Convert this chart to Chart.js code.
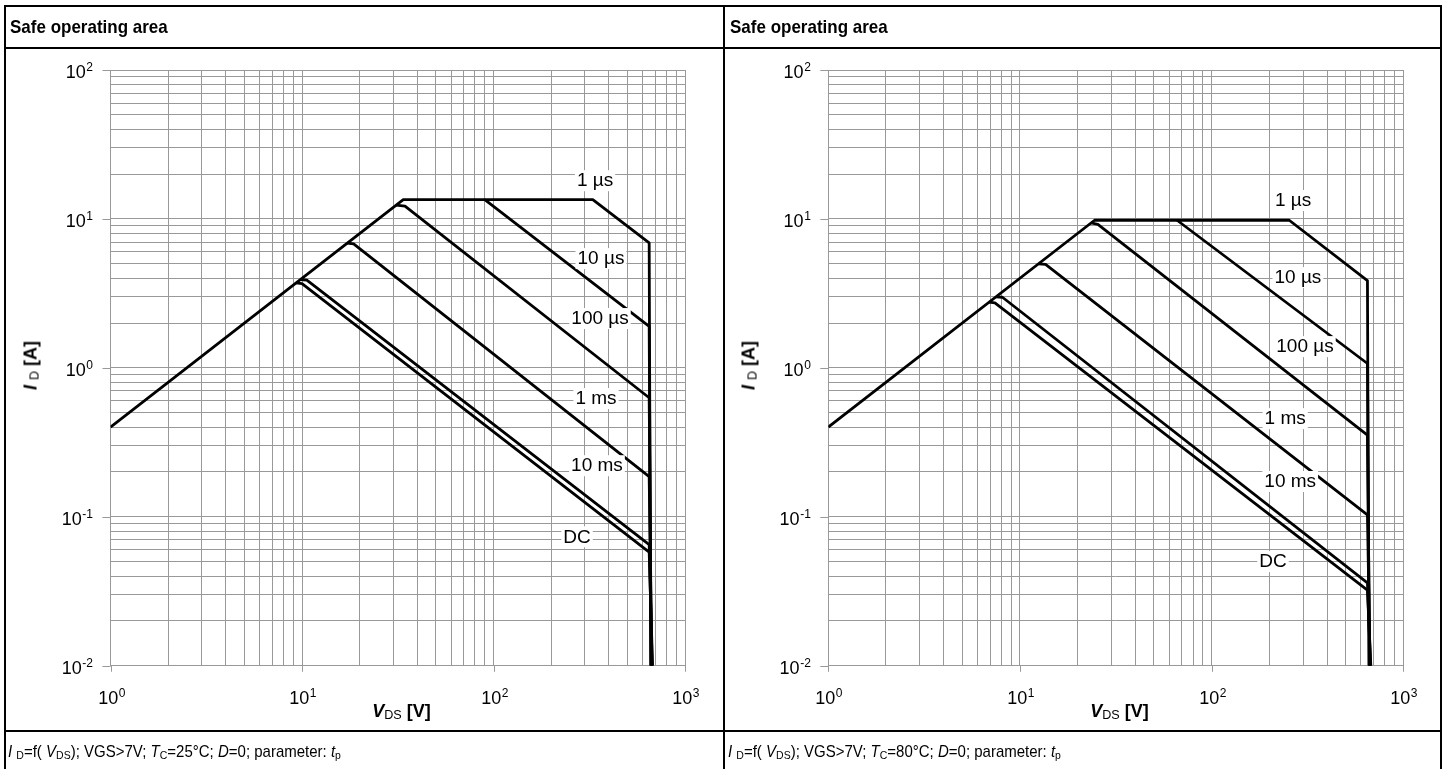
<!DOCTYPE html>
<html>
<head>
<meta charset="utf-8">
<script src="https://cdn.jsdelivr.net/npm/chart.js@4.4.1/dist/chart.umd.min.js"></script>
<style>
body { margin: 0; background: #fff; font-family: "Liberation Sans", Arial, sans-serif; }
#page { position: relative; width: 1445px; height: 769px; overflow: hidden; }
canvas { position: absolute; left: 0; top: 0; }
.ln { position: absolute; background: #000; }
.title { position: absolute; top: 16px; font-weight: bold; font-size: 17px; transform: scale(1, 1.12); transform-origin: left top; }
.cap { position: absolute; top: 741px; font-size: 15px; white-space: nowrap; transform: scale(1, 1.12); transform-origin: left top; }
.cap sub, .ax sub { font-size: 70%; vertical-align: -2px; font-weight: normal; }
.ax { position: absolute; font-weight: bold; font-size: 18px; white-space: nowrap; text-align: center; }
.yax { transform: rotate(-90deg); transform-origin: center center; width: 80px; }
</style>
</head>
<body>
<div id="page">
  <canvas id="c25" width="1445" height="769"></canvas>
  <canvas id="c80" width="1445" height="769"></canvas>

  <div class="ln" style="left:4px;top:5px;width:1438px;height:2px"></div>
  <div class="ln" style="left:4px;top:47px;width:1438px;height:2px"></div>
  <div class="ln" style="left:4px;top:730px;width:1438px;height:2px"></div>
  <div class="ln" style="left:4px;top:5px;width:2px;height:770px"></div>
  <div class="ln" style="left:723px;top:5px;width:2px;height:770px"></div>
  <div class="ln" style="left:1440px;top:5px;width:2px;height:770px"></div>

  <div class="title" style="left:10px">Safe operating area</div>
  <div class="title" style="left:730px">Safe operating area</div>

  <div class="ax" style="left:114px;width:575px;top:701px"><i>V</i><sub>DS</sub> [V]</div>
  <div class="ax" style="left:832px;width:575px;top:701px"><i>V</i><sub>DS</sub> [V]</div>
  <div class="ax yax" style="left:-9px;top:355px"><i>I</i> <sub>D</sub> [A]</div>
  <div class="ax yax" style="left:709px;top:355px"><i>I</i> <sub>D</sub> [A]</div>

  <div class="cap" style="left:8px"><i>I</i> <sub>D</sub>=f( <i>V</i><sub>DS</sub>); VGS&gt;7V; <i>T</i><sub>C</sub>=25°C; <i>D</i>=0; parameter: <i>t</i><sub>p</sub></div>
  <div class="cap" style="left:728px"><i>I</i> <sub>D</sub>=f( <i>V</i><sub>DS</sub>); VGS&gt;7V; <i>T</i><sub>C</sub>=80°C; <i>D</i>=0; parameter: <i>t</i><sub>p</sub></div>
</div>

<script>
// axis decades (exponents of ten)
const xExps = [0, 1, 2, 3]
const yExps = [-2, -1, 0, 1, 2]
const pulseNames = ['1 µs', '10 µs', '100 µs', '1 ms', '10 ms', 'DC']

// T_C = 25°C : V_DS [V] and I_D [A] per pulse length
const v25_1us = [1, 33.8, 330, 650, 662]
const i25_1us = [0.4, 13.5, 13.5, 6.9, 0.01]
const v25_10us = [90, 650, 665]
const i25_10us = [13.5, 1.9, 0.01]
const v25_100us = [31, 34.5, 650, 668]
const i25_100us = [12.4, 12.2, 0.63, 0.01]
const v25_1ms = [17.2, 18.6, 650, 671]
const i25_1ms = [6.88, 6.8, 0.186, 0.01]
const v25_10ms = [9.8, 10.6, 650, 674]
const i25_10ms = [3.92, 3.88, 0.065, 0.01]
const v25_dc = [9.3, 10.0, 650, 677]
const i25_dc = [3.72, 3.68, 0.058, 0.01]
// where the pulse names sit
const lblV25 = [339, 364, 360, 343, 347, 273]
const lblI25 = [18.2, 5.46, 2.16, 0.627, 0.222, 0.074]

// T_C = 80°C
const v80_1us = [1, 24.5, 254, 650, 662]
const i80_1us = [0.4, 9.8, 9.8, 3.85, 0.01]
const v80_10us = [66, 650, 665]
const i80_10us = [9.8, 1.07, 0.01]
const v80_100us = [23.5, 25.5, 650, 668]
const i80_100us = [9.4, 9.2, 0.354, 0.01]
const v80_1ms = [12.5, 13.6, 650, 671]
const i80_1ms = [5.0, 4.95, 0.103, 0.01]
const v80_10ms = [7.5, 8.1, 650, 674]
const i80_10ms = [3.0, 2.98, 0.036, 0.01]
const v80_dc = [6.9, 7.4, 650, 677]
const i80_dc = [2.76, 2.73, 0.0322, 0.01]
const lblV80 = [266, 282, 307, 242, 257, 209]
const lblI80 = [13.4, 4.07, 1.40, 0.46, 0.174, 0.0504]

const FONT = '"Liberation Sans", Arial, sans-serif'

function pts(vs, is) {
    return vs.map((v, k) => ({ x: v, y: is[k] }))
}

function logTicks(lo, hi) {
    const t = []
    for (let e = lo; e <= hi; e++) {
        for (let m = 1; m <= 9; m++) {
            if (e == hi && m > 1) break
            t.push({ value: m * Math.pow(10, e), major: m == 1 })
        }
    }
    return t
}

function drawPow(ctx, exp, x, y, align) {
    ctx.font = '18px ' + FONT
    const wb = ctx.measureText('10').width
    ctx.font = '12px ' + FONT
    const we = ctx.measureText(String(exp)).width
    let x0 = x
    if (align == 'right') x0 = x - wb - we
    if (align == 'center') x0 = x - (wb + we) / 2
    ctx.textAlign = 'left'
    ctx.textBaseline = 'alphabetic'
    ctx.font = '18px ' + FONT
    ctx.fillText('10', x0, y)
    ctx.font = '12px ' + FONT
    ctx.fillText(String(exp), x0 + wb + 0.5, y - 7)
}

const decor = {
    id: 'decor',
    afterDatasetsDraw(chart, args, opts) {
        const ctx = chart.ctx, xs = chart.scales.x, ys = chart.scales.y, a = chart.chartArea
        ctx.save()
        // pulse labels with white boxes
        ctx.font = '19px ' + FONT
        opts.names.forEach((t, k) => {
            const px = xs.getPixelForValue(opts.lv[k])
            const py = ys.getPixelForValue(opts.li[k])
            const w = ctx.measureText(t).width
            ctx.fillStyle = '#fff'
            ctx.fillRect(px - w / 2 - 2, py - 10, w + 4, 21)
            ctx.fillStyle = '#000'
            ctx.textAlign = 'center'
            ctx.textBaseline = 'middle'
            ctx.fillText(t, px, py + 1)
        })
        // major tick marks + labels
        ctx.strokeStyle = '#999'
        ctx.lineWidth = 1
        ctx.fillStyle = '#000'
        yExps.forEach(e => {
            const py = Math.round(ys.getPixelForValue(Math.pow(10, e))) + 0.5
            ctx.beginPath(); ctx.moveTo(a.left - 8, py); ctx.lineTo(a.left, py); ctx.stroke()
            drawPow(ctx, e, a.left - 18, py + 7, 'right')
        })
        xExps.forEach(e => {
            const px = Math.round(xs.getPixelForValue(Math.pow(10, e))) + 0.5
            ctx.beginPath(); ctx.moveTo(px, a.bottom); ctx.lineTo(px, a.bottom + 6); ctx.stroke()
            drawPow(ctx, e, px, a.bottom + 38, 'center')
        })
        ctx.restore()
    }
}

function makeChart(id, series, lv, li, left, right) {
    const datasets = series.map(s => ({
        data: s,
        borderColor: '#000',
        borderWidth: 2.8,
        pointRadius: 0,
        tension: 0,
        fill: false,
        borderJoinStyle: 'round'
    }))
    const axis = (lo, hi) => ({
        type: 'logarithmic',
        min: Math.pow(10, lo),
        max: Math.pow(10, hi),
        afterBuildTicks: sc => { sc.ticks = logTicks(lo, hi) },
        ticks: { display: false },
        grid: { color: '#999', lineWidth: 1, drawTicks: false },
        border: { display: false }
    })
    return new Chart(document.getElementById(id), {
        type: 'line',
        data: { datasets: datasets },
        options: {
            responsive: false,
            animation: false,
            devicePixelRatio: 1,
            layout: { padding: { left: left, right: 1445 - right, top: 70, bottom: 769 - 665.75 } },
            scales: { x: axis(0, 3), y: axis(-2, 2) },
            plugins: {
                legend: { display: false },
                tooltip: { enabled: false },
                decor: { names: pulseNames, lv: lv, li: li }
            }
        },
        plugins: [decor]
    })
}

makeChart('c25', [
    pts(v25_1us, i25_1us), pts(v25_10us, i25_10us), pts(v25_100us, i25_100us),
    pts(v25_1ms, i25_1ms), pts(v25_10ms, i25_10ms), pts(v25_dc, i25_dc)
], lblV25, lblI25, 110.5, 685)

makeChart('c80', [
    pts(v80_1us, i80_1us), pts(v80_10us, i80_10us), pts(v80_100us, i80_100us),
    pts(v80_1ms, i80_1ms), pts(v80_10ms, i80_10ms), pts(v80_dc, i80_dc)
], lblV80, lblI80, 828.3, 1403.3)
</script>
</body>
</html>
